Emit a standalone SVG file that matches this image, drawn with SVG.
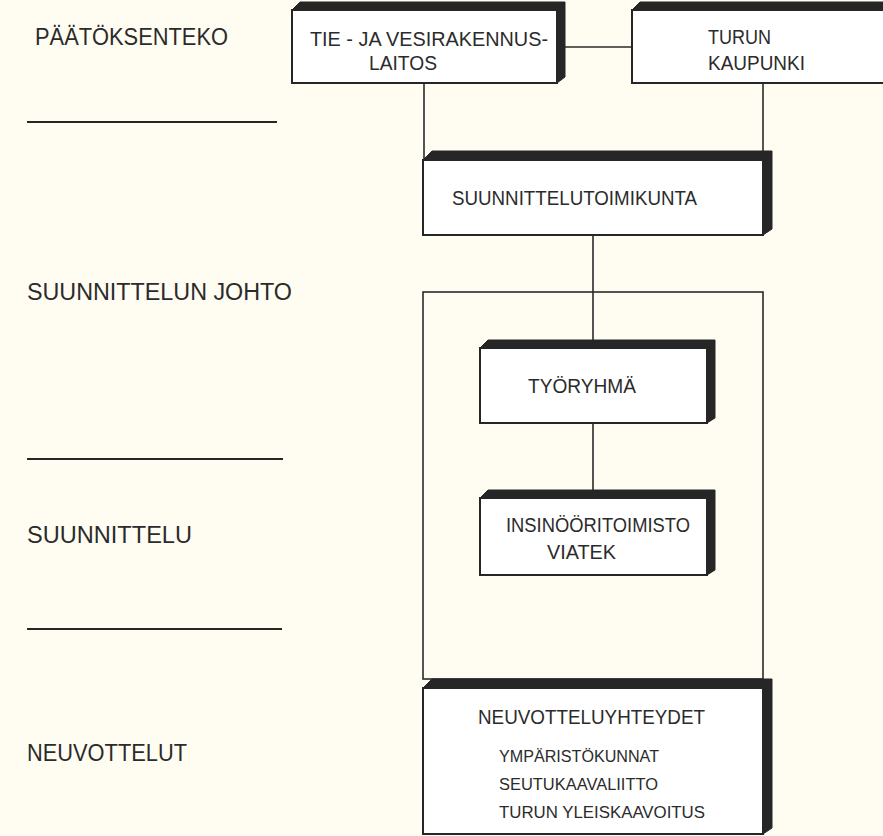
<svg xmlns="http://www.w3.org/2000/svg" width="883" height="836" viewBox="0 0 883 836">
<style>
.lbl{font-family:"Liberation Sans",Arial,sans-serif;fill:#2b2b2b;}
.big{font-size:23px;}
.box{font-size:20px;}
.sm{font-size:16px;}
.front{fill:#ffffff;stroke:#262626;stroke-width:2;}
.shade{fill:#262626;stroke:#262626;stroke-width:1;stroke-linejoin:round;}
.ln{stroke:#2a2a2a;stroke-width:1.6;fill:none;}
.sep{stroke:#262626;stroke-width:2;}
</style>
<rect x="0" y="0" width="883" height="836" fill="#fffdf2"/>

<g id="side-labels">
<text class="lbl big" x="35" y="45" textLength="193" lengthAdjust="spacingAndGlyphs">PÄÄTÖKSENTEKO</text>
<line class="sep" x1="27" y1="122" x2="277" y2="122"/>
<text class="lbl big" x="27" y="300" textLength="265" lengthAdjust="spacingAndGlyphs">SUUNNITTELUN JOHTO</text>
<line class="sep" x1="27" y1="459" x2="283" y2="459"/>
<text class="lbl big" x="27" y="543" textLength="165" lengthAdjust="spacingAndGlyphs">SUUNNITTELU</text>
<line class="sep" x1="27" y1="629" x2="282" y2="629"/>
<text class="lbl big" x="27" y="761" textLength="160" lengthAdjust="spacingAndGlyphs">NEUVOTTELUT</text>
</g>

<g id="connectors">
<line class="ln" x1="565" y1="47" x2="632" y2="47"/>
<line class="ln" x1="424" y1="83" x2="424" y2="160"/>
<line class="ln" x1="763" y1="83" x2="763" y2="152"/>
<line class="ln" x1="593" y1="235" x2="593" y2="341"/>
<rect class="ln" x="423" y="292" width="340" height="387"/>
<line class="ln" x1="593" y1="423" x2="593" y2="491"/>
</g>

<g id="tie-ja-vesirakennuslaitos">
<polygon class="shade" points="292,10 300,2 565,2 565,77 557,83 557,10"/>
<rect class="front" x="292" y="10" width="265" height="73"/>
<text class="lbl box" x="310" y="46" textLength="238" lengthAdjust="spacingAndGlyphs">TIE - JA  VESIRAKENNUS-</text>
<text class="lbl box" x="369" y="70" textLength="68" lengthAdjust="spacingAndGlyphs">LAITOS</text>
</g>

<g id="turun-kaupunki">
<polygon class="shade" points="632,10 640,2 900,2 900,10"/>
<rect class="front" x="632" y="10" width="270" height="73"/>
<text class="lbl box" x="708" y="44" textLength="63" lengthAdjust="spacingAndGlyphs">TURUN</text>
<text class="lbl box" x="708" y="70" textLength="97" lengthAdjust="spacingAndGlyphs">KAUPUNKI</text>
</g>

<g id="suunnittelutoimikunta">
<polygon class="shade" points="423,160 432,151 772,151 772,229 763,235 763,160"/>
<rect class="front" x="423" y="160" width="340" height="75"/>
<text class="lbl box" x="452" y="205" textLength="245" lengthAdjust="spacingAndGlyphs">SUUNNITTELUTOIMIKUNTA</text>
</g>

<g id="tyoryhma">
<polygon class="shade" points="480,348 488,340 715,340 715,418 707,423 707,348"/>
<rect class="front" x="480" y="348" width="227" height="75"/>
<text class="lbl box" x="528" y="393" textLength="108" lengthAdjust="spacingAndGlyphs">TYÖRYHMÄ</text>
</g>

<g id="insinooritoimisto-viatek">
<polygon class="shade" points="480,498 488,490 715,490 715,570 707,575 707,498"/>
<rect class="front" x="480" y="498" width="227" height="77"/>
<text class="lbl box" x="506" y="532" textLength="184" lengthAdjust="spacingAndGlyphs">INSINÖÖRITOIMISTO</text>
<text class="lbl box" x="547" y="559" textLength="69" lengthAdjust="spacingAndGlyphs">VIATEK</text>
</g>

<g id="neuvotteluyhteydet">
<polygon class="shade" points="423,688 432,679 772,679 772,828 763,834 763,688"/>
<rect class="front" x="423" y="688" width="340" height="146"/>
<text class="lbl box" x="478" y="724" textLength="227" lengthAdjust="spacingAndGlyphs">NEUVOTTELUYHTEYDET</text>
<text class="lbl sm" x="499" y="762" textLength="160" lengthAdjust="spacingAndGlyphs">YMPÄRISTÖKUNNAT</text>
<text class="lbl sm" x="499" y="790" textLength="159" lengthAdjust="spacingAndGlyphs">SEUTUKAAVALIITTO</text>
<text class="lbl sm" x="499" y="818" textLength="206" lengthAdjust="spacingAndGlyphs">TURUN  YLEISKAAVOITUS</text>
</g>
</svg>
